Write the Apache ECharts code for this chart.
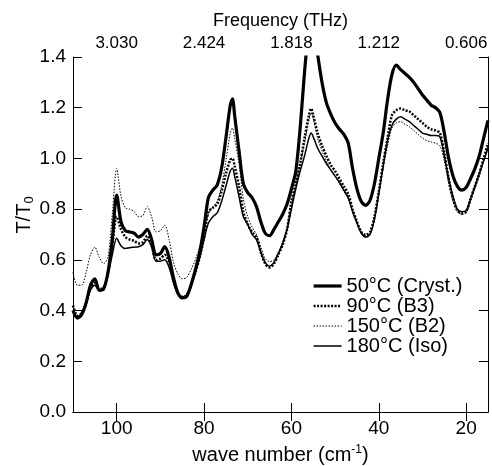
<!DOCTYPE html>
<html>
<head>
<meta charset="utf-8">
<script src="https://cdn.jsdelivr.net/npm/echarts@6/dist/echarts.min.js"></script>
<style>
html,body{margin:0;padding:0;background:#fff;}
#chart{width:492px;height:466px;}
</style>
</head>
<body>
<div id="chart"></div>
<script>
// wave numbers (cm^-1)
const WN = [110,109,108,107,106,105,104,103,102,101,100,99,98,97,96,95,94,93,92,91,90,89,88,87,86,85,84,83,82,81,80,79,78,77,76,75,74,73.5,73,72,71,70,69,68,67,66,65,64,63,62,61,60,59,58,57,56,55.5,55,54,53,52,51,50,49,48,47,46,45,44,43,42,41,40,39,38,37,36,35,34,33,32,31,30,29,28,27,26,25,24,23,22,21,20,19,18,17,16,15];

const T50 = [0.40,0.37,0.385,0.43,0.50,0.525,0.48,0.485,0.55,0.68,0.855,0.75,0.715,0.71,0.705,0.69,0.70,0.72,0.68,0.62,0.625,0.652,0.61,0.53,0.47,0.45,0.455,0.50,0.56,0.63,0.73,0.845,0.875,0.895,0.96,1.08,1.21,1.235,1.17,1.03,0.90,0.865,0.845,0.81,0.75,0.705,0.695,0.72,0.75,0.78,0.82,0.88,0.95,1.12,1.34,1.52,1.56,1.52,1.41,1.30,1.22,1.175,1.14,1.115,1.095,1.06,0.96,0.88,0.83,0.815,0.835,0.90,1.00,1.10,1.23,1.33,1.368,1.35,1.335,1.32,1.30,1.275,1.25,1.23,1.21,1.20,1.18,1.10,1.00,0.93,0.89,0.875,0.885,0.92,0.96,1.01,1.08,1.15];

const T90 = [0.42,0.38,0.39,0.43,0.49,0.51,0.485,0.49,0.55,0.66,0.77,0.72,0.69,0.68,0.675,0.665,0.67,0.695,0.66,0.60,0.605,0.62,0.59,0.52,0.47,0.455,0.46,0.50,0.55,0.61,0.69,0.79,0.805,0.82,0.87,0.94,0.995,1.0,0.97,0.89,0.79,0.74,0.71,0.69,0.63,0.585,0.57,0.585,0.62,0.66,0.72,0.83,0.90,0.98,1.08,1.17,1.197,1.17,1.10,1.05,1.01,0.975,0.95,0.92,0.89,0.86,0.80,0.75,0.71,0.698,0.71,0.77,0.87,0.98,1.08,1.17,1.19,1.197,1.19,1.185,1.17,1.155,1.14,1.125,1.115,1.11,1.10,1.02,0.92,0.84,0.795,0.783,0.79,0.84,0.89,0.94,1.00,1.06];

const T150 = [0.55,0.50,0.50,0.55,0.62,0.65,0.61,0.585,0.61,0.78,0.96,0.85,0.805,0.80,0.79,0.77,0.775,0.81,0.77,0.71,0.715,0.737,0.68,0.59,0.545,0.525,0.53,0.56,0.60,0.65,0.72,0.78,0.81,0.83,0.89,0.99,1.10,1.12,1.08,0.98,0.84,0.77,0.73,0.70,0.65,0.605,0.593,0.60,0.63,0.67,0.73,0.815,0.90,0.98,1.06,1.15,1.18,1.155,1.08,1.03,0.99,0.955,0.93,0.90,0.87,0.84,0.79,0.745,0.71,0.695,0.705,0.76,0.86,0.96,1.05,1.12,1.14,1.145,1.135,1.125,1.11,1.095,1.08,1.07,1.065,1.06,1.05,0.99,0.90,0.83,0.79,0.78,0.785,0.83,0.88,0.93,0.99,1.05];

const T180 = [0.40,0.375,0.39,0.43,0.48,0.50,0.48,0.485,0.54,0.62,0.685,0.655,0.645,0.648,0.65,0.652,0.66,0.68,0.65,0.595,0.595,0.60,0.57,0.51,0.465,0.455,0.46,0.50,0.55,0.61,0.68,0.745,0.77,0.785,0.83,0.89,0.95,0.961,0.93,0.85,0.77,0.74,0.70,0.68,0.63,0.59,0.575,0.59,0.625,0.665,0.72,0.80,0.88,0.95,1.01,1.08,1.10,1.085,1.04,1.01,0.98,0.955,0.93,0.905,0.875,0.845,0.79,0.745,0.705,0.69,0.70,0.76,0.86,0.97,1.07,1.13,1.155,1.164,1.155,1.145,1.13,1.115,1.10,1.095,1.09,1.09,1.085,1.01,0.92,0.85,0.80,0.79,0.795,0.84,0.89,0.94,0.99,1.04];

const SERIES_NAMES = ['50°C (Cryst.)','90°C (B3)','150°C (B2)','180°C (Iso)'];
const BOTTOM_TICKS = [100,80,60,40,20];
const TOP_TICK_WN = [100,80,60,40,20];
const TOP_TICK_LABELS = ['3.030','2.424','1.818','1.212','0.606'];

const FONT = "'Liberation Sans', Arial, Helvetica, sans-serif";
const chart = echarts.init(document.getElementById('chart'), null, {renderer:'canvas'});

function pairs(vals){ return WN.map((w,i)=>[w, vals[i]]); }

const axisLine = {show:true, lineStyle:{color:'#000', width:1}};
const tick = {show:true, inside:true, length:9, lineStyle:{color:'#000', width:1}};

const STYLES = [
  {width:3.2, type:'solid'},
  {width:2.5, type:[2,1.5]},
  {width:1, type:[1.5,1.5]},
  {width:1.5, type:'solid'}
];

const option = {
  animation:false,
  backgroundColor:'#fff',
  textStyle:{fontFamily:FONT},
  grid:{left:73, right:4, top:57, bottom:54, containLabel:false, outerBoundsMode:'none'},
  legend:{
    orient:'vertical', left:307, top:271,
    itemWidth:28, itemHeight:14, itemGap:0,
    itemStyle:{color:'rgba(0,0,0,0)', borderWidth:0, opacity:0},
    textStyle:{fontSize:20, color:'#000', fontFamily:FONT, lineHeight:20},
    data:SERIES_NAMES.map((n,i)=>({name:n, lineStyle:{color:'#000', width:STYLES[i].width, type:STYLES[i].type}}))
  },
  xAxis:[
    {type:'value', position:'bottom', min:15, max:110, inverse:true,
     axisLine:axisLine,
     axisTick:Object.assign({}, tick, {customValues:BOTTOM_TICKS}),
     axisLabel:{customValues:BOTTOM_TICKS, fontSize:19, color:'#000', margin:7, fontFamily:FONT},
     splitLine:{show:false},
     name:'wave number (cm{sup|-1})', nameLocation:'middle', nameGap:32,
     nameTextStyle:{fontSize:20, color:'#000', fontFamily:FONT,
       rich:{sup:{fontSize:12, color:'#000', fontFamily:FONT, padding:[0,0,10,0]}}}
    },
    {type:'value', position:'top', min:15, max:110, inverse:true,
     axisLine:axisLine,
     axisTick:Object.assign({}, tick, {customValues:TOP_TICK_WN}),
     axisLabel:{customValues:TOP_TICK_WN, fontSize:17, color:'#000', margin:5, fontFamily:FONT,
       formatter:function(v){ const i = TOP_TICK_WN.indexOf(v); return i>=0 ? TOP_TICK_LABELS[i] : ''; }},
     splitLine:{show:false},
     name:'Frequency (THz)', nameLocation:'middle', nameGap:23,
     nameTextStyle:{fontSize:18, color:'#000', fontFamily:FONT}
    }
  ],
  yAxis:[
    {type:'value', position:'left', min:0, max:1.4, interval:0.2,
     axisLine:axisLine, axisTick:tick,
     axisLabel:{fontSize:19, color:'#000', margin:7, fontFamily:FONT, formatter:function(v){return v.toFixed(1);}},
     splitLine:{show:false}},
    {type:'value', position:'right', min:0, max:1.4, interval:0.2,
     axisLine:axisLine, axisTick:tick, axisLabel:{show:false}, splitLine:{show:false}}
  ],
  graphic:[
    {type:'text', x:24, y:215, rotation:Math.PI/2,
     style:{text:'T/T{sub|0}', fontSize:20, fontFamily:FONT, fill:'#000', align:'center', verticalAlign:'middle',
       rich:{sub:{fontSize:13, fontFamily:FONT, fill:'#000', padding:[10,0,0,0]}}}}
  ],
  series:[
    {name:SERIES_NAMES[0], type:'line', data:pairs(T50), showSymbol:false, symbol:'none', smooth:0.3,
     lineStyle:Object.assign({color:'#000'}, STYLES[0]), itemStyle:{color:'#000'}, z:5},
    {name:SERIES_NAMES[1], type:'line', data:pairs(T90), showSymbol:false, symbol:'none', smooth:0.3,
     lineStyle:Object.assign({color:'#000'}, STYLES[1]), itemStyle:{color:'#000'}, z:4},
    {name:SERIES_NAMES[2], type:'line', data:pairs(T150), showSymbol:false, symbol:'none', smooth:0.3,
     lineStyle:Object.assign({color:'#000'}, STYLES[2]), itemStyle:{color:'#000'}, z:3},
    {name:SERIES_NAMES[3], type:'line', data:pairs(T180), showSymbol:false, symbol:'none', smooth:0.3,
     lineStyle:Object.assign({color:'#000'}, STYLES[3]), itemStyle:{color:'#000'}, z:3}
  ]
};
chart.setOption(option);
</script>
</body>
</html>
